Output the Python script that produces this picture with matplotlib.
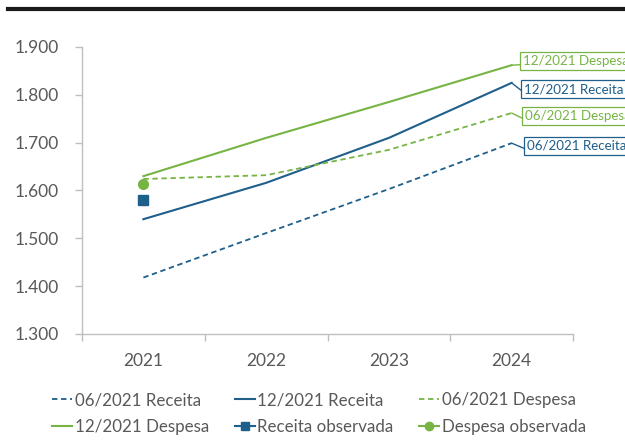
import matplotlib.pyplot as plt
from matplotlib.lines import Line2D

plt.rcParams['font.family'] = ['Lato', 'DejaVu Sans']

anos = ['2021', '2022', '2023', '2024']
receita_06 = [1.418, 1.511, 1.603, 1.699]
receita_12 = [1.540, 1.616, 1.710, 1.825]
despesa_06 = [1.624, 1.632, 1.685, 1.762]
despesa_12 = [1.630, 1.710, 1.785, 1.862]
receita_obs = [1.580]
despesa_obs = [1.614]
yticks = [1.3, 1.4, 1.5, 1.6, 1.7, 1.8, 1.9]
ytick_labels = ['1.300', '1.400', '1.500', '1.600', '1.700', '1.800', '1.900']

azul = '#1F5F8B'
verde = '#77B444'
cinza = '#595959'
eixo = '#BFBFBF'

fig = plt.figure(figsize=(6.25, 4.41), dpi=100)
ax = fig.add_axes([82 / 625, 107 / 441, 491 / 625, 287 / 441])

# linha preta no topo
fig.add_artist(Line2D([8 / 625, 1.0], [1 - 8.5 / 441, 1 - 8.5 / 441],
                      color='#1A1A1A', lw=3, transform=fig.transFigure))

x = list(range(len(anos)))
l1, = ax.plot(x, receita_06, color=azul, lw=1.3, ls=(0, (3, 2)))
l2, = ax.plot(x, receita_12, color=azul, lw=1.5)
l3, = ax.plot(x, despesa_06, color=verde, lw=1.3, ls=(0, (3, 2)))
l4, = ax.plot(x, despesa_12, color=verde, lw=1.5)
ax.plot([0], receita_obs, ls='none', marker='s', ms=7, color=azul)
ax.plot([0], despesa_obs, ls='none', marker='o', ms=7, color=verde)

ax.set_xlim(-0.5, 3.5)
ax.set_ylim(1.3, 1.9)
ax.set_yticks(yticks)
ax.set_yticklabels(ytick_labels)
ax.set_xticks(x)
ax.set_xticklabels(anos)
ax.set_xticks([-0.5, 0.5, 1.5, 2.5, 3.5], minor=True)
ax.tick_params(axis='x', which='major', length=0, pad=14, labelsize=12.5, labelcolor=cinza)
ax.tick_params(axis='x', which='minor', length=5, color=eixo, width=1)
ax.tick_params(axis='y', length=5, color=eixo, width=1, pad=12, labelsize=12.5, labelcolor=cinza)
for s in ['top', 'right']:
    ax.spines[s].set_visible(False)
for s in ['left', 'bottom']:
    ax.spines[s].set_color(eixo)
    ax.spines[s].set_linewidth(1)

# rótulos das séries no fim das linhas (as caixas passam da borda direita)
rotulos = [
    ('12/2021 Despesa', despesa_12[-1], verde, 523, 380),
    ('12/2021 Receita', receita_12[-1], azul, 524, 352),
    ('06/2021 Despesa', despesa_06[-1], verde, 525, 325),
    ('06/2021 Receita', receita_06[-1], azul, 527, 295),
]
for texto, valor, cor, px, py in rotulos:
    ax.annotate(texto, xy=(3, valor), xytext=(px, py), textcoords='figure pixels',
                ha='left', va='center', fontsize=9.6, color=cor, annotation_clip=False,
                bbox=dict(boxstyle='square,pad=0.2', fc='white', ec=cor, lw=0.9),
                arrowprops=dict(arrowstyle='-', color=cor, lw=1,
                                shrinkA=0, shrinkB=0, relpos=(0, 0.2)))

handles = [
    l1, l4, l2,
    Line2D([], [], color=azul, lw=1.5, marker='s', ms=6),
    l3,
    Line2D([], [], color=verde, lw=1.5, marker='o', ms=6),
]
labels = ['06/2021 Receita', '12/2021 Despesa', '12/2021 Receita',
          'Receita observada', '06/2021 Despesa', 'Despesa observada']
fig.legend(handles, labels, ncol=3, loc='upper left', bbox_to_anchor=(52 / 625, 1 - 392 / 441),
           borderaxespad=0, borderpad=0, frameon=False, fontsize=12.2,
           handlelength=1.2, handletextpad=0.15, columnspacing=1.5,
           labelcolor=cinza, labelspacing=0.65)

fig.savefig('out.png', dpi=100)
